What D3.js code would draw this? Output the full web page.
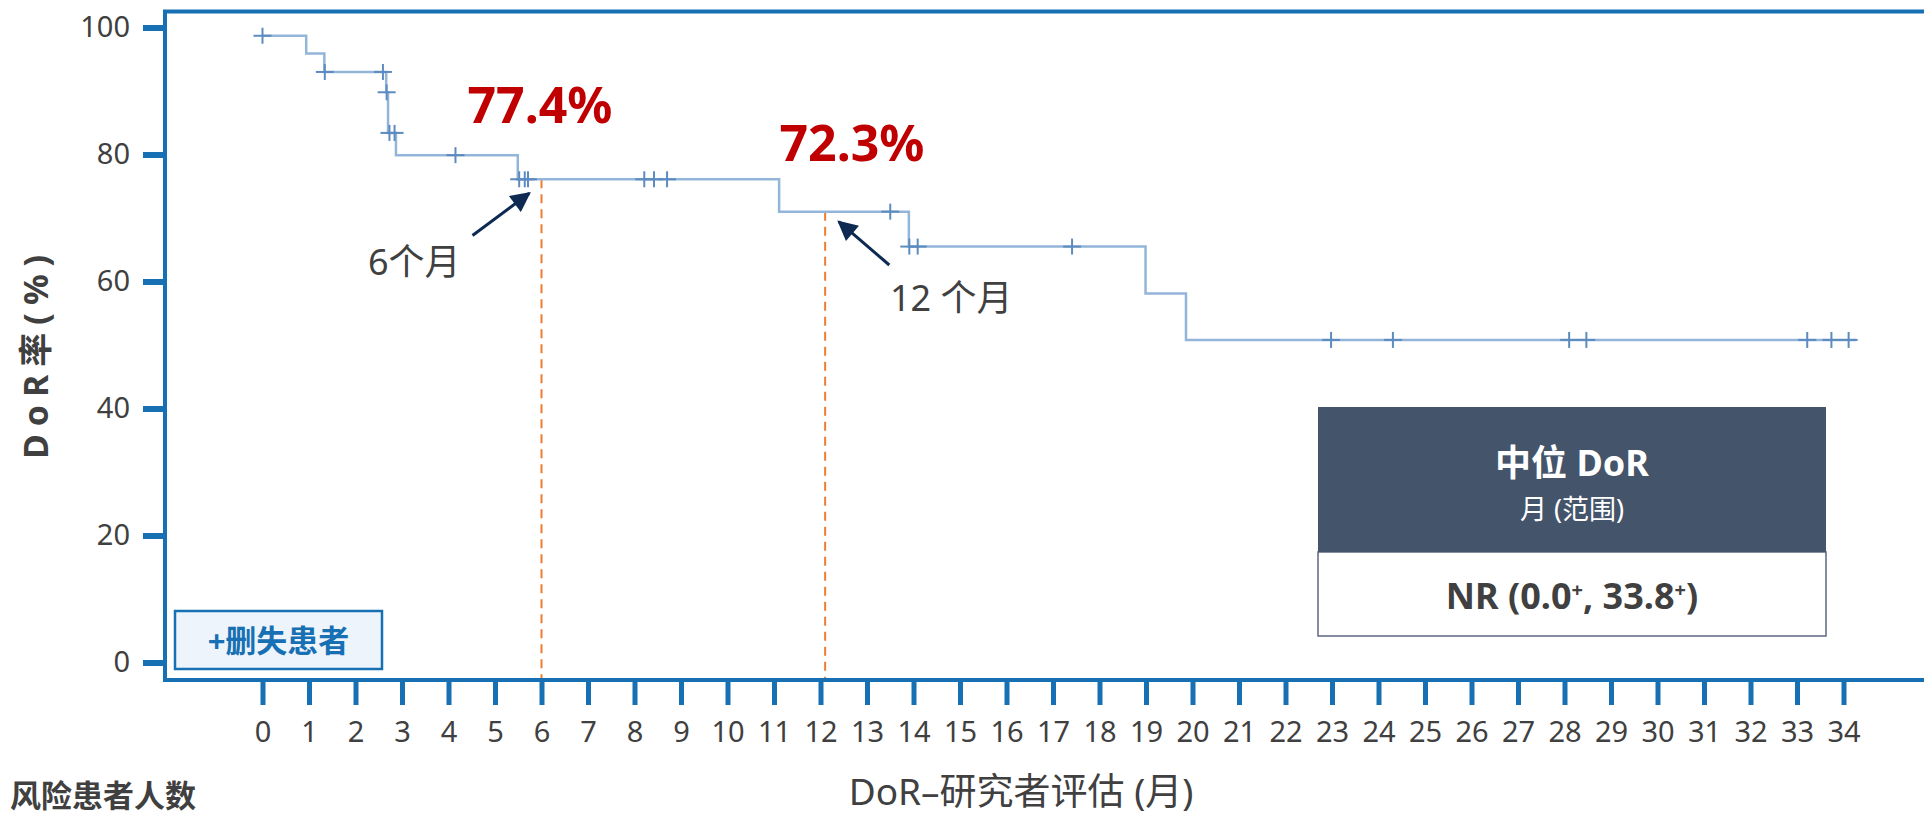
<!DOCTYPE html>
<html>
<head>
<meta charset="utf-8">
<script src="https://cdn.jsdelivr.net/npm/d3@7"></script>
<style>
body { margin: 0; background: #fff; }
svg text { font-family: "Noto Sans", "Noto Sans CJK SC", sans-serif; }
</style>
</head>
<body>
<div id="chart"></div>
<script>
// ---- data -------------------------------------------
var stepMonths = [0, 0.94, 1.33, 2.66, 2.70, 2.87, 5.49, 11.11, 13.90, 18.99, 19.86];
var stepRates = [98.7, 95.9, 93.0, 89.8, 83.4, 79.9, 76.1, 71.0, 65.5, 58.1, 50.8];
var lastMonth = 34.27;
var censorMonths = [0, 1.34, 2.59, 2.67, 2.73, 2.84, 4.15, 5.52, 5.64, 5.71, 8.21, 8.42, 8.70,
    13.5, 13.91, 14.09, 17.41, 22.98, 24.31, 28.10, 28.47, 33.22, 33.74, 34.11];

var xTicks = [0, 1, 2, 3, 4, 5, 6, 7, 8, 9, 10, 11, 12, 13, 14, 15, 16, 17,
    18, 19, 20, 21, 22, 23, 24, 25, 26, 27, 28, 29, 30, 31, 32, 33, 34];
var yTicks = [0, 20, 40, 60, 80, 100];

var milestoneMonths = [6, 12.1];
var milestoneRates = ["77.4%", "72.3%"];
var milestoneNotes = ["6个月", "12 个月"];

var medianTitle = "中位 DoR";
var medianSub = "月 (范围)";

// ---- sizes ----------------------
var W = 1924, H = 817;
var frameLeft = 165, frameTop = 11.5, frameBottom = 680;
var blue = "#1770b3";
var grey = "#404040";

var svg = d3.select("#chart").append("svg")
    .attr("width", W)
    .attr("height", H);

var x = d3.scaleLinear().domain([0, 34]).range([262.5, 1843.5]);
var y = d3.scaleLinear().domain([0, 100]).range([662.5, 27.5]);

function rateAt(t) {
    var v = stepRates[0];
    for (var i = 0; i < stepMonths.length; i++) {
        if (stepMonths[i] <= t) v = stepRates[i];
    }
    return v;
}

// ---- frame ----------------------
svg.append("path")
    .attr("d", "M" + W + "," + frameTop + "H" + frameLeft + "V" + frameBottom + "H" + W)
    .attr("fill", "none")
    .attr("stroke", blue)
    .attr("stroke-width", 4);

// ---- axes ----------------------
var yAxis = svg.append("g")
    .attr("transform", "translate(163,0)")
    .call(d3.axisLeft(y).tickValues(yTicks).tickSize(20).tickPadding(13));
yAxis.select(".domain").remove();
yAxis.selectAll("line").attr("stroke", blue).attr("stroke-width", 6);
yAxis.selectAll("text")
    .attr("fill", grey)
    .style("font-size", "29px");

var xAxis = svg.append("g")
    .attr("transform", "translate(0," + frameBottom + ")")
    .call(d3.axisBottom(x).tickValues(xTicks).tickSize(25).tickPadding(16));
xAxis.select(".domain").remove();
xAxis.selectAll("line").attr("stroke", blue).attr("stroke-width", 5);
xAxis.selectAll("text")
    .attr("fill", grey)
    .style("font-size", "29px");

svg.append("text")
    .attr("x", 1021)
    .attr("y", 805)
    .attr("text-anchor", "middle")
    .attr("fill", grey)
    .style("font-size", "37px")
    .text("DoR–研究者评估 (月)");

svg.append("text")
    .attr("transform", "translate(48,353) rotate(-90)")
    .attr("text-anchor", "middle")
    .attr("fill", grey)
    .style("font-size", "34px")
    .style("font-weight", "bold")
    .style("letter-spacing", "8px")
    .text("DoR率(%)");

svg.append("text")
    .attr("x", 10)
    .attr("y", 807)
    .attr("fill", grey)
    .style("font-size", "31px")
    .style("font-weight", "bold")
    .text("风险患者人数");

// ---- milestone dashed lines ----------------------
svg.selectAll(".milestone")
    .data(milestoneMonths)
    .enter().append("line")
    .attr("class", "milestone")
    .attr("x1", d => x(d))
    .attr("x2", d => x(d))
    .attr("y1", d => y(rateAt(d)))
    .attr("y2", frameBottom - 2)
    .attr("stroke", "#ed7d31")
    .attr("stroke-width", 2)
    .attr("stroke-dasharray", "9,6");

// ---- KM curve ----------------------
var pts = stepMonths.map((m, i) => [m, stepRates[i]]);
pts.push([lastMonth, stepRates[stepRates.length - 1]]);

var line = d3.line()
    .x(d => x(d[0]))
    .y(d => y(d[1]))
    .curve(d3.curveStepAfter);

svg.append("path")
    .datum(pts)
    .attr("d", line)
    .attr("fill", "none")
    .attr("stroke", "#93b5da")
    .attr("stroke-width", 2.5);

var cross = svg.selectAll(".censor")
    .data(censorMonths)
    .enter().append("g")
    .attr("class", "censor")
    .attr("transform", d => "translate(" + x(d) + "," + y(rateAt(d)) + ")");
cross.append("line")
    .attr("x1", -9).attr("x2", 9)
    .attr("stroke", "#5c8bc0").attr("stroke-width", 2);
cross.append("line")
    .attr("y1", -8).attr("y2", 8)
    .attr("stroke", "#5c8bc0").attr("stroke-width", 2);

// ---- annotations ----------------------
var defs = svg.append("defs");
defs.append("marker")
    .attr("id", "head")
    .attr("markerUnits", "userSpaceOnUse")
    .attr("viewBox", "0 0 10 10")
    .attr("refX", 9).attr("refY", 5)
    .attr("markerWidth", 22).attr("markerHeight", 20)
    .attr("orient", "auto")
    .append("path")
    .attr("d", "M0,0L10,5L0,10z")
    .attr("fill", "#0e2a52");

var rateLabelPos = [[540, 123], [852, 161]];
var notePos = [[368, 275], [890, 311]];
var arrows = [[472.5, 235.5, 529.3, 193.3], [889.3, 265, 838.8, 221.7]];

svg.selectAll(".rate")
    .data(milestoneRates)
    .enter().append("text")
    .attr("class", "rate")
    .attr("x", (d, i) => rateLabelPos[i][0])
    .attr("y", (d, i) => rateLabelPos[i][1])
    .attr("text-anchor", "middle")
    .attr("fill", "#c00000")
    .style("font-size", "50px")
    .style("font-weight", "bold")
    .text(d => d);

svg.selectAll(".note")
    .data(milestoneNotes)
    .enter().append("text")
    .attr("class", "note")
    .attr("x", (d, i) => notePos[i][0])
    .attr("y", (d, i) => notePos[i][1])
    .attr("fill", grey)
    .style("font-size", "36px")
    .text(d => d);

svg.selectAll(".arrow")
    .data(arrows)
    .enter().append("line")
    .attr("class", "arrow")
    .attr("x1", d => d[0]).attr("y1", d => d[1])
    .attr("x2", d => d[2]).attr("y2", d => d[3])
    .attr("stroke", "#0e2a52")
    .attr("stroke-width", 3)
    .attr("marker-end", "url(#head)");

// ---- censored legend ----------------------
svg.append("rect")
    .attr("x", 175).attr("y", 611)
    .attr("width", 207).attr("height", 58)
    .attr("fill", "#eef4fb")
    .attr("stroke", blue)
    .attr("stroke-width", 2.5);
svg.append("text")
    .attr("x", 278.5).attr("y", 652)
    .attr("text-anchor", "middle")
    .attr("fill", blue)
    .style("font-size", "31px")
    .style("font-weight", "bold")
    .text("+删失患者");

// ---- median box ----------------------
svg.append("rect")
    .attr("x", 1318).attr("y", 552)
    .attr("width", 508).attr("height", 84)
    .attr("fill", "#fff")
    .attr("stroke", "#5d6880")
    .attr("stroke-width", 1.5);
svg.append("rect")
    .attr("x", 1318).attr("y", 407)
    .attr("width", 508).attr("height", 145)
    .attr("fill", "#44546a");
svg.append("text")
    .attr("x", 1572).attr("y", 476)
    .attr("text-anchor", "middle")
    .attr("fill", "#fff")
    .style("font-size", "36px")
    .style("font-weight", "bold")
    .text(medianTitle);
svg.append("text")
    .attr("x", 1572).attr("y", 519)
    .attr("text-anchor", "middle")
    .attr("fill", "#fff")
    .style("font-size", "27px")
    .text(medianSub);

var nr = svg.append("text")
    .attr("x", 1572).attr("y", 609)
    .attr("text-anchor", "middle")
    .attr("fill", grey)
    .style("font-size", "36px")
    .style("font-weight", "bold");
nr.append("tspan").text("NR (0.0");
nr.append("tspan").attr("dy", -12).style("font-size", "20px").text("+");
nr.append("tspan").attr("dy", 12).text(", 33.8");
nr.append("tspan").attr("dy", -12).style("font-size", "20px").text("+");
nr.append("tspan").attr("dy", 12).text(")");
</script>
</body>
</html>
